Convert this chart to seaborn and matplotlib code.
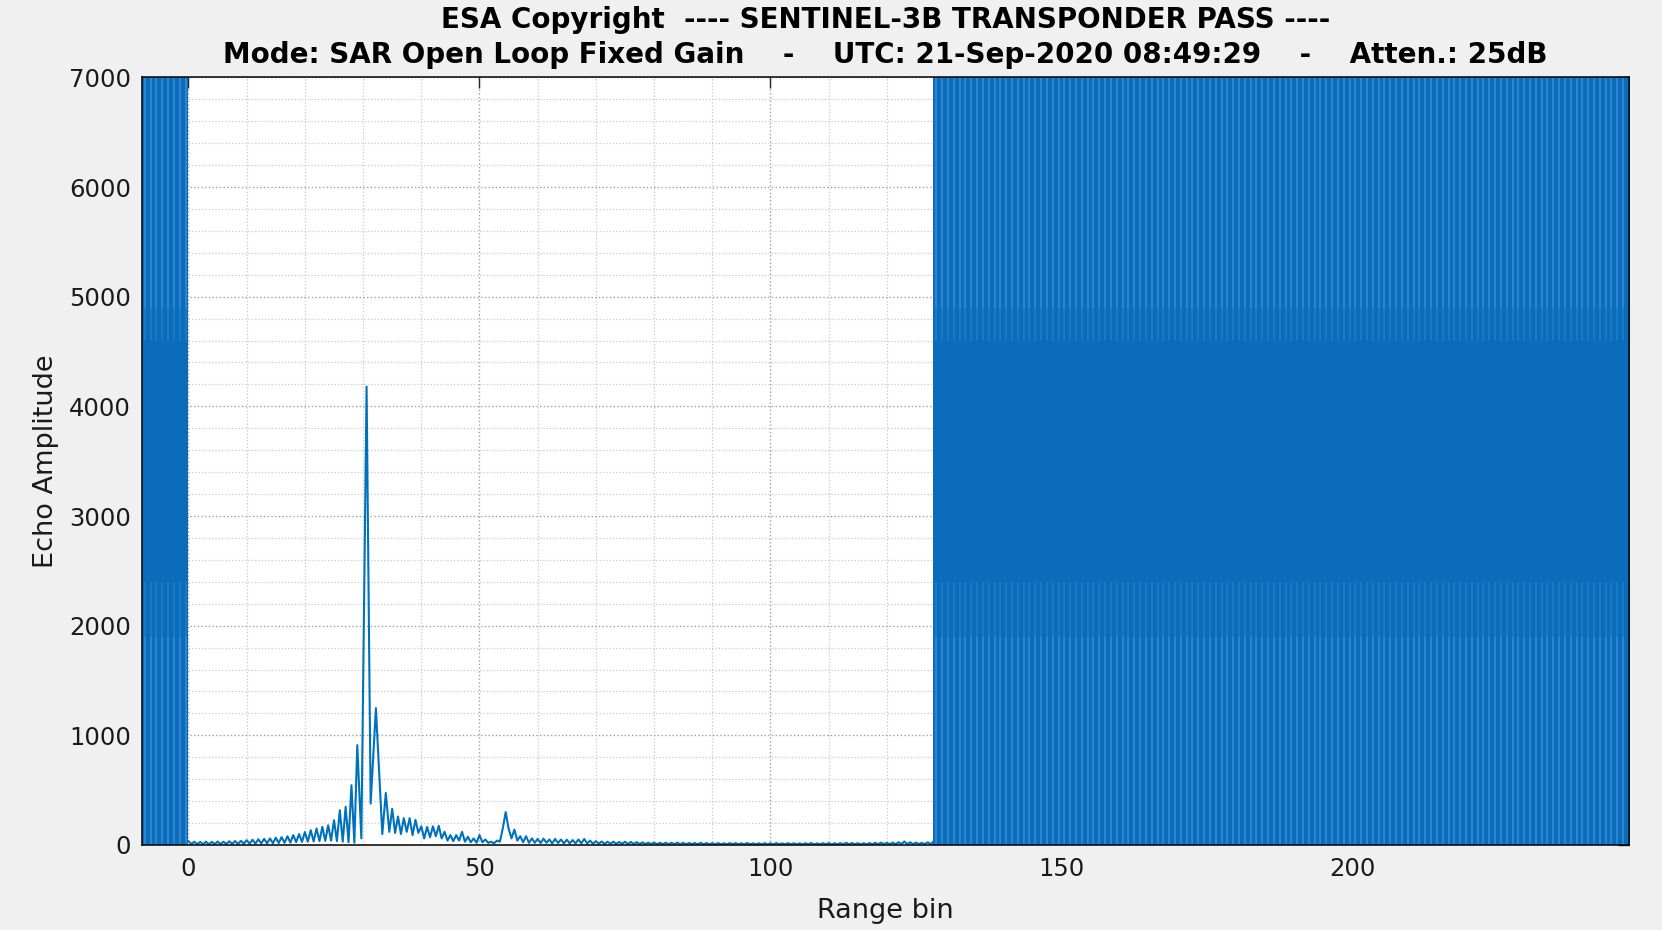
import numpy as np
import pandas as pd
import seaborn as sns
import matplotlib.pyplot as plt
from matplotlib.ticker import MultipleLocator

# echo amplitude, half-bin samples from bin 0 to bin 29 (leading sidelobes)
head_amp = [35, 8, 30, 6, 28, 7, 30, 6, 29, 8,
            31, 8, 30, 9, 34, 10, 36, 9, 38, 11,
            44, 12, 48, 12, 52, 14, 56, 15, 60, 16,
            66, 18, 72, 20, 80, 22, 90, 25, 100, 28,
            118, 30, 135, 32, 150, 35, 165, 38, 180, 40,
            226, 35, 317, 30, 348, 25, 545, 20, 911]

# transponder main lobe and first trailing sidelobes
peak_bin = [29.7, 30.6, 31.3, 32.2, 33.3, 33.9]
peak_amp = [60, 4180, 377, 1248, 100, 474]

# half-bin samples from bin 34.5 to bin 128
tail_amp = [120, 330, 110, 260, 100, 245, 120, 245, 90, 230,
            110, 170, 60, 165, 70, 170, 80, 175, 60, 120,
            40, 90, 35, 90, 40, 120, 30, 75, 25, 60,
            20, 90, 25, 50, 20, 30, 15, 40, 30, 150,
            300, 150, 60, 140, 40, 80, 25, 80, 20, 60,
            20, 55, 18, 58, 20, 50, 15, 55, 18, 50,
            15, 48, 14, 45, 15, 50, 15, 55, 14, 40,
            12, 35, 12, 32, 10, 30, 11, 30, 10, 28,
            10, 30, 9, 28, 9, 26, 8, 24, 8, 22,
            8, 22, 7, 20, 7, 21, 6, 20, 7, 22,
            6, 20, 6, 19, 7, 18, 6, 20, 6, 18,
            6, 17, 5, 18, 6, 16, 5, 18, 6, 17,
            5, 16, 5, 18, 6, 15, 5, 16, 5, 17,
            5, 16, 5, 18, 6, 15, 5, 17, 6, 16,
            5, 15, 5, 16, 6, 18, 5, 15, 5, 17,
            6, 18, 5, 16, 6, 17, 5, 20, 6, 18,
            6, 17, 5, 16, 6, 18, 6, 20, 7, 22,
            7, 20, 6, 22, 7, 25, 8, 32, 8, 25,
            7, 22, 8, 20, 7, 25, 8, 30]

# windows where the echo is off-scale (saturated), and the streaky zones inside them
sat_spans = [(-8, 0), (128, 248)]
streak_zones = [(0, 1900), (1900, 2400), (4600, 4900), (4900, 7000)]

head_bin = np.arange(0, 29.01, 0.5)
tail_bin = np.arange(34.5, 128.01, 0.5)
df = pd.DataFrame({
    'bin': np.concatenate([head_bin, peak_bin, tail_bin]),
    'amp': np.concatenate([head_amp, peak_amp, tail_amp]),
})

sns.set_style('white')
plt.rcParams['font.family'] = ['DejaVu Sans']

blue = '#0072BD'
fig = plt.figure(figsize=(16.62, 9.30), dpi=100, facecolor='#f0f0f0')
ax = fig.add_axes([0.0854, 0.0914, 0.8947, 0.8254])
ax.set_facecolor('white')

ymax = 7000
streak_alpha = [0.6, 0.3, 0.3, 0.6]
for a, b in sat_spans:
    ax.fill_between([a, b], 0, ymax, color='#0a6cba', lw=0, zorder=2)
    streaks = np.arange(a + 0.5, b, 1.0)
    for (lo, hi), al in zip(streak_zones, streak_alpha):
        ax.vlines(streaks, lo, hi, color='#4aa3e4', lw=1.2, alpha=al, zorder=2.1)

sns.lineplot(data=df, x='bin', y='amp', ax=ax, color=blue, lw=1.5,
             estimator=None, sort=False, zorder=3)

ax.set_xlim(-8, 247.5)
ax.set_ylim(0, ymax)
ax.xaxis.set_major_locator(MultipleLocator(50))
ax.xaxis.set_minor_locator(MultipleLocator(10))
ax.yaxis.set_major_locator(MultipleLocator(1000))
ax.yaxis.set_minor_locator(MultipleLocator(200))
ax.grid(which='major', ls=':', color='#a0a0a0', lw=1.0, zorder=0)
ax.grid(which='minor', ls=':', color='#c8c8c8', lw=0.9, zorder=0)
ax.set_axisbelow(True)

for s in ax.spines.values():
    s.set_color('black')
    s.set_linewidth(1.1)
    s.set_zorder(5)
ax.tick_params(which='major', direction='in', top=True, right=True, length=8,
               width=1, labelsize=17.5, labelcolor='#1a1a1a')
ax.tick_params(axis='x', pad=9)
ax.tick_params(axis='y', pad=8)
ax.tick_params(which='minor', length=0)

ax.set_xlabel('Range bin', fontsize=19.5, color='#1a1a1a')
ax.set_ylabel('Echo Amplitude', fontsize=19.5, color='#1a1a1a')
ax.xaxis.set_label_coords(0.5, -0.069)
ax.yaxis.set_label_coords(-0.056, 0.5)

ax.set_title('ESA Copyright  ---- SENTINEL-3B TRANSPONDER PASS ----\n'
             'Mode: SAR Open Loop Fixed Gain    -    UTC: 21-Sep-2020 08:49:29    -    Atten.: 25dB',
             fontsize=20, fontweight='bold', pad=10, linespacing=1.36, color='black')

fig.savefig('out.png', dpi=100, facecolor=fig.get_facecolor())
